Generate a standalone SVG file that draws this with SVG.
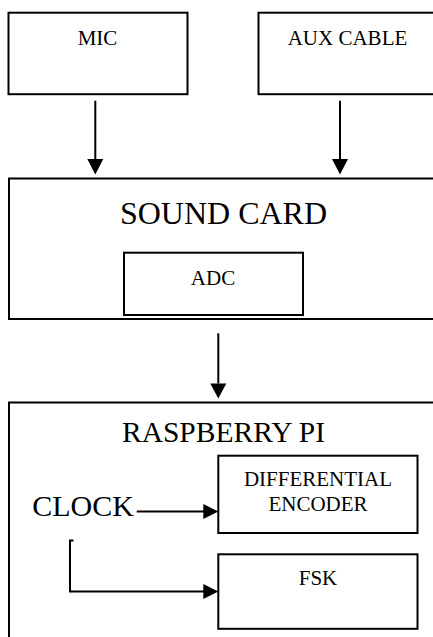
<svg xmlns="http://www.w3.org/2000/svg" width="433" height="637" viewBox="0 0 433 637">
<style>
.box{fill:#fff;stroke:#000;stroke-width:2}
text{font-family:'Liberation Serif','Times New Roman',Tinos,'DejaVu Serif',serif;fill:#000;text-anchor:middle}
.s{font-size:21px}
.c{stroke:#000;stroke-width:2;fill:none}
</style>
<rect width="433" height="637" fill="#fff"/>
<g id="mic"><rect class="box" x="8.5" y="12.7" width="179" height="81.5"/><text class="s" x="97.5" y="45">MIC</text></g>
<g id="aux"><rect class="box" x="258.5" y="12.7" width="190" height="81.5"/><text class="s" x="347.5" y="45">AUX CABLE</text></g>
<g id="soundcard"><rect class="box" x="9" y="178.5" width="440" height="140.5"/><text font-size="32" x="223.5" y="224">SOUND CARD</text></g>
<g id="adc"><rect class="box" x="124" y="252.7" width="179" height="62.3"/><text class="s" x="213" y="285">ADC</text></g>
<g id="raspberrypi"><rect class="box" x="9" y="402.5" width="440" height="260"/><text font-size="29.5" x="223.5" y="442.3">RASPBERRY PI</text></g>
<g id="clock"><text font-size="30" x="83" y="516">CLOCK</text></g>
<g id="diffenc"><rect class="box" x="218.3" y="455.7" width="199.2" height="77.3"/><text class="s" x="318" y="486">DIFFERENTIAL</text><text class="s" x="318" y="511">ENCODER</text></g>
<g id="fsk"><rect class="box" x="218.3" y="554.3" width="199.2" height="74.5"/><text class="s" x="318" y="585">FSK</text></g>
<g id="connectors">
<path class="c" d="M95.3,100.7 V159" />
<path d="M87.3,159 L103.3,159 L95.3,174.5 Z" fill="#000"/>
<path class="c" d="M340,100.7 V159" />
<path d="M332,159 L348,159 L340,174.5 Z" fill="#000"/>
<path class="c" d="M218.3,333.3 V383.5" />
<path d="M210.3,383.5 L226.3,383.5 L218.3,398.5 Z" fill="#000"/>
<path class="c" d="M136.7,511.5 H204" />
<path d="M203.3,504 L218.3,511.5 L203.3,519 Z" fill="#000"/>
<path class="c" d="M73.5,540.5 H70 V591.5 H204" />
<path d="M203.3,584 L218.3,591.5 L203.3,599 Z" fill="#000"/>
</g>
</svg>
